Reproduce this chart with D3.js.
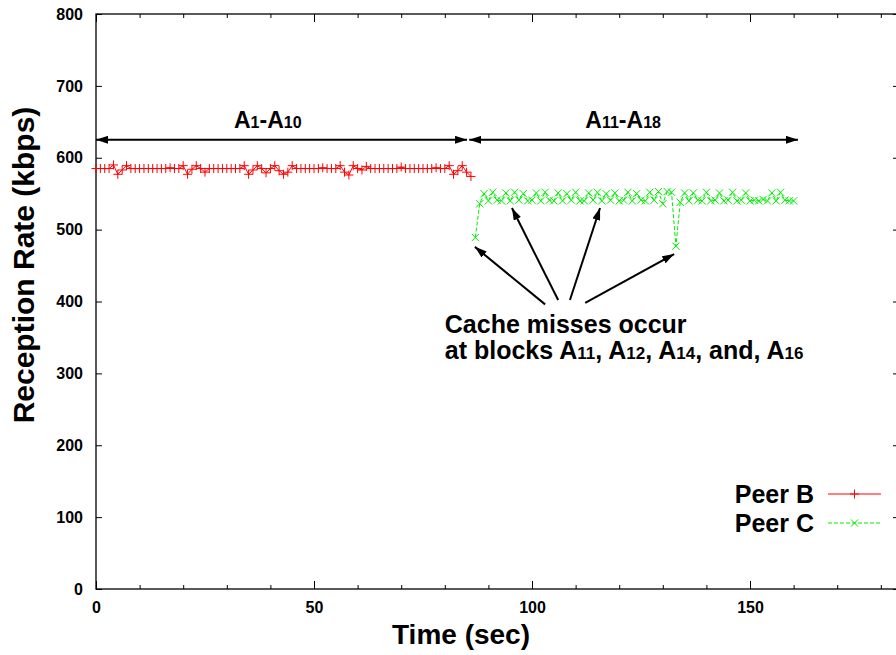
<!DOCTYPE html>
<html>
<head>
<meta charset="utf-8">
<script src="https://cdn.jsdelivr.net/npm/d3@7"></script>
<style>
  html, body { margin: 0; padding: 0; background: #fff; }
  svg { display: block; font-family: "Liberation Sans", Arial, sans-serif; font-weight: bold; }
</style>
</head>
<body>
<svg id="chart" width="896" height="655"></svg>
<script>
// ---- Data ----
const timeB = d3.range(0, 87);             // seconds 0..86
const peerB = [
  585,585,585,585,590,577,583,589,585,585,
  585,585,585,585,585,585,585,586,585,585,
  589,577,584,589,585,580,585,585,585,585,
  585,585,585,585,589,577,583,589,585,579,
  585,589,582,577,580,589,585,585,585,585,
  585,585,586,585,585,585,589,580,576,589,
  585,583,588,585,585,585,585,585,585,585,
  587,585,585,585,585,585,585,585,586,585,
  585,589,577,582,589,580,574
];
const timeC = d3.range(87, 161);           // seconds 87..160
const peerC = [
  489,536,550,540,552,541,540,551,540,552,
  541,550,540,541,551,540,552,541,540,551,
  540,550,541,552,540,540,551,541,552,540,
  550,541,551,540,541,552,540,550,541,540,
  552,541,553,536,553,552,477,538,551,540,
  551,541,540,552,540,541,551,540,541,552,
  540,541,551,540,541,540,542,540,551,540,
  552,541,540,540
];
const seriesNames = ["Peer B", "Peer C"];
const xMajorTicks = [0, 50, 100, 150];
const xMinorTicks = [10, 20, 30, 40, 60, 70, 80, 90, 110, 120, 130, 140, 160, 170, 180];
const yTicks = [0, 100, 200, 300, 400, 500, 600, 700, 800];
const xDomain = [0, 184.4];
const yDomain = [0, 800];

// annotations (data units)
const spanArrows = [
  { x1: 0, x2: 85.1, y: 625, label: ["A", "1", "-A", "10"], lx: 39.4, ly: 641 },
  { x1: 85.6, x2: 161, y: 625, label: ["A", "11", "-A", "18"], lx: 120.9, ly: 641 }
];
const missArrows = [
  { x1: 103.0, y1: 396, x2: 86.9, y2: 476 },
  { x1: 106.0, y1: 402, x2: 95.4, y2: 530 },
  { x1: 108.7, y1: 402, x2: 115.6, y2: 530 },
  { x1: 112.2, y1: 398, x2: 132.6, y2: 466 }
];
const noteLines = [
  { x: 80.0, y: 356, parts: [["Cache misses occur", false]] },
  { x: 80.0, y: 320, parts: [["at blocks A", false], ["11", true], [", A", false], ["12", true], [", A", false], ["14", true], [", and, A", false], ["16", true]] }
];

// ---- Chart ----
const svg = d3.select("#chart");
const x = d3.scaleLinear().domain(xDomain).range([96, 900]);
const y = d3.scaleLinear().domain(yDomain).range([589, 14]);

// defs: arrowheads
const defs = svg.append("defs");
defs.append("marker").attr("id", "ah").attr("viewBox", "0 0 12 8")
  .attr("refX", 12).attr("refY", 4).attr("markerWidth", 12).attr("markerHeight", 8)
  .attr("markerUnits", "userSpaceOnUse").attr("orient", "auto-start-reverse")
  .append("path").attr("d", "M0,0 L12,4 L0,8 Z").attr("fill", "#000");

// frame
const frame = svg.append("g").attr("stroke", "#000").attr("stroke-width", 1.3).attr("fill", "none");
frame.append("rect").attr("x", x(xDomain[0])).attr("y", y(yDomain[1]))
  .attr("width", x(xDomain[1]) - x(xDomain[0])).attr("height", y(yDomain[0]) - y(yDomain[1]));

function styleAxis(g) {
  g.select(".domain").remove();
  g.selectAll(".tick line").attr("stroke", "#000").attr("stroke-width", 1);
  g.selectAll(".tick text").attr("fill", "#000").attr("font-size", 16).attr("font-weight", "bold")
    .attr("font-family", "Liberation Sans, Arial, sans-serif");
}

// bottom axis major/minor (inward ticks)
svg.append("g").attr("transform", `translate(0,${y(0)})`)
  .call(d3.axisBottom(x).tickValues(xMajorTicks).tickSize(-8).tickPadding(13).tickFormat(d3.format("d")))
  .call(styleAxis);
svg.append("g").attr("transform", `translate(0,${y(0)})`)
  .call(d3.axisBottom(x).tickValues(xMinorTicks).tickSize(-4).tickFormat(""))
  .call(styleAxis);
// top axis mirrored
svg.append("g").attr("transform", `translate(0,${y(800)})`)
  .call(d3.axisTop(x).tickValues(xMajorTicks).tickSize(-8).tickFormat(""))
  .call(styleAxis);
svg.append("g").attr("transform", `translate(0,${y(800)})`)
  .call(d3.axisTop(x).tickValues(xMinorTicks).tickSize(-4).tickFormat(""))
  .call(styleAxis);
// left axis
svg.append("g").attr("transform", `translate(${x(0)},0)`)
  .call(d3.axisLeft(y).tickValues(yTicks).tickSize(-6).tickPadding(13).tickFormat(d3.format("d")))
  .call(styleAxis);
// right axis mirrored
svg.append("g").attr("transform", `translate(${x(xDomain[1])},0)`)
  .call(d3.axisRight(y).tickValues(yTicks).tickSize(-7).tickFormat(""))
  .call(styleAxis);

// axis titles
svg.append("text").attr("x", 461).attr("y", 644).attr("text-anchor", "middle")
  .attr("font-size", 28).text("Time (sec)");
svg.append("text").attr("transform", "translate(34,265) rotate(-90)").attr("text-anchor", "middle")
  .attr("font-size", 30).text("Reception Rate (kbps)");

// series
const dataB = timeB.map((t, i) => ({ t, v: peerB[i] }));
const dataC = timeC.map((t, i) => ({ t, v: peerC[i] }));
const line = d3.line().x(d => x(d.t)).y(d => y(d.v));
const red = "#ff0000", green = "#00ee00";
const plus = 4.5, cross = 3.6;

svg.append("path").datum(dataB).attr("d", line).attr("fill", "none").attr("stroke", red).attr("stroke-width", 1);
svg.append("g").selectAll("path").data(dataB).join("path")
  .attr("d", d => `M${x(d.t) - plus},${y(d.v)}h${2 * plus}M${x(d.t)},${y(d.v) - plus}v${2 * plus}`)
  .attr("stroke", red).attr("stroke-width", 1).attr("fill", "none");

svg.append("path").datum(dataC).attr("d", line).attr("fill", "none").attr("stroke", green)
  .attr("stroke-width", 1).attr("stroke-dasharray", "4,2");
svg.append("g").selectAll("path").data(dataC).join("path")
  .attr("d", d => { const cx = x(d.t), cy = y(d.v);
    return `M${cx - cross},${cy - cross}L${cx + cross},${cy + cross}M${cx - cross},${cy + cross}L${cx + cross},${cy - cross}`; })
  .attr("stroke", green).attr("stroke-width", 1).attr("fill", "none");

// span arrows with labels
spanArrows.forEach(a => {
  svg.append("line").attr("x1", x(a.x1)).attr("x2", x(a.x2)).attr("y1", y(a.y)).attr("y2", y(a.y))
    .attr("stroke", "#000").attr("stroke-width", 2)
    .attr("marker-start", "url(#ah)").attr("marker-end", "url(#ah)");
  const t = svg.append("text").attr("x", x(a.lx)).attr("y", y(a.ly)).attr("text-anchor", "middle").attr("font-size", 23);
  a.label.forEach((s, i) => t.append("tspan").attr("font-size", i % 2 === 1 ? 16 : 23).text(s));
});

// cache miss arrows
missArrows.forEach(a => {
  svg.append("line").attr("x1", x(a.x1)).attr("y1", y(a.y1)).attr("x2", x(a.x2)).attr("y2", y(a.y2))
    .attr("stroke", "#000").attr("stroke-width", 2).attr("marker-end", "url(#ah)");
});
noteLines.forEach(l => {
  const t = svg.append("text").attr("x", x(l.x)).attr("y", y(l.y)).attr("font-size", 25);
  l.parts.forEach(([s, sub]) => t.append("tspan").attr("font-size", sub ? 17 : 25).text(s));
});

// legend
const legend = [
  { name: seriesNames[0], color: red, dash: null, ly: 494, mark: "plus" },
  { name: seriesNames[1], color: green, dash: "4,2", ly: 523, mark: "cross" }
];
legend.forEach(l => {
  svg.append("text").attr("x", 814).attr("y", l.ly + 8.5).attr("text-anchor", "end").attr("font-size", 25).text(l.name);
  svg.append("line").attr("x1", 828).attr("x2", 881).attr("y1", l.ly).attr("y2", l.ly)
    .attr("stroke", l.color).attr("stroke-width", 1).attr("stroke-dasharray", l.dash);
  const cx = 854.5, cy = l.ly;
  svg.append("path").attr("d", l.mark === "plus"
      ? `M${cx - plus},${cy}h${2 * plus}M${cx},${cy - plus}v${2 * plus}`
      : `M${cx - cross},${cy - cross}L${cx + cross},${cy + cross}M${cx - cross},${cy + cross}L${cx + cross},${cy - cross}`)
    .attr("stroke", l.color).attr("stroke-width", 1).attr("fill", "none");
});
</script>
</body>
</html>
